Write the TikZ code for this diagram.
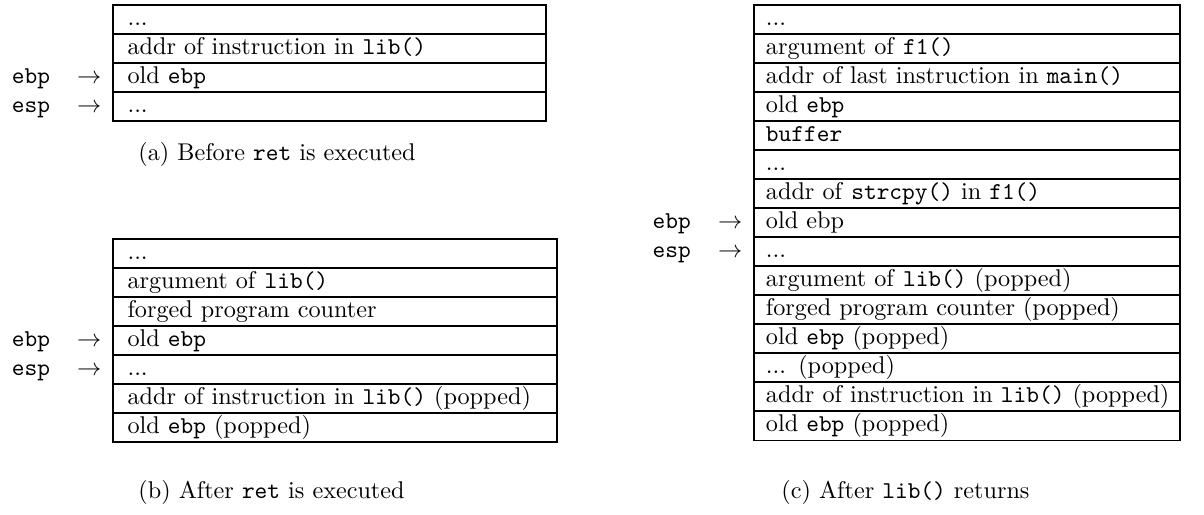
\documentclass[tikz,border=0pt]{standalone}
\usetikzlibrary{positioning}

\tikzset{
  cell/.style={draw, line width=0.8pt, rectangle, anchor=north west,
    inner xsep=6pt, inner ysep=0pt, outer sep=0pt,
    text height=8.4pt, text depth=3.6pt, align=left},
  reg/.style={anchor=base west, inner sep=0pt},
  subcaption/.style={anchor=base west, inner sep=0pt}
}
% three periods, kept in a macro so \foreach does not read them as a range
\newcommand\stackdots{...}

\begin{document}
\begin{tikzpicture}
\useasboundingbox (0,0) rectangle (497.5pt,-212.4pt);

% (a) stack before ret
\foreach \t [count=\i] in {{\stackdots},{addr of instruction in \texttt{lib()}},{old \texttt{ebp}},{\stackdots}}
  \node[cell, text width=167pt] (a\i) at (46.7pt,{-2pt-(\i-1)*12pt}) {\mbox{\t}};
\node[reg] (aebp) at ([xshift=-42pt]a3.base west) {\texttt{ebp}};
\node[reg] (aebparr) at ([xshift=-15pt]a3.base west) {$\rightarrow$};
\node[reg] (aesp) at ([xshift=-42pt]a4.base west) {\texttt{esp}};
\node[reg] (aesparr) at ([xshift=-15pt]a4.base west) {$\rightarrow$};
\node[subcaption] (capa) at (57pt,-66.5pt) {(a) Before \texttt{ret} is executed};

% (b) stack after ret
\foreach \t [count=\i] in {{\stackdots},{argument of \texttt{lib()}},{forged program counter},{old \texttt{ebp}},{\stackdots},{addr of instruction in \texttt{lib()} (popped)},{old \texttt{ebp} (popped)}}
  \node[cell, text width=171.5pt] (b\i) at (46.7pt,{-98.8pt-(\i-1)*12pt}) {\mbox{\t}};
\node[reg] (bebp) at ([xshift=-42pt]b4.base west) {\texttt{ebp}};
\node[reg] (bebparr) at ([xshift=-15pt]b4.base west) {$\rightarrow$};
\node[reg] (besp) at ([xshift=-42pt]b5.base west) {\texttt{esp}};
\node[reg] (besparr) at ([xshift=-15pt]b5.base west) {$\rightarrow$};
\node[subcaption] (capb) at (57pt,-206pt) {(b) After \texttt{ret} is executed};

% (c) stack after lib() returns
\foreach \t [count=\i] in {{\stackdots},{argument of \texttt{f1()}},{addr of last instruction in \texttt{main()}},{old \texttt{ebp}},{\texttt{buffer}},{\stackdots},{addr of \texttt{strcpy()} in \texttt{f1()}},{old ebp},{\stackdots},{argument of \texttt{lib()} (popped)},{forged program counter (popped)},{old \texttt{ebp} (popped)},{\stackdots{} (popped)},{addr of instruction in \texttt{lib()} (popped)},{old \texttt{ebp} (popped)}}
  \node[cell, inner xsep=5pt, text width=166pt] (c\i) at (311.5pt,{-2pt-(\i-1)*12pt}) {\mbox{\t}};
\node[reg] (cebp) at ([xshift=-42pt]c8.base west) {\texttt{ebp}};
\node[reg] (cebparr) at ([xshift=-15pt]c8.base west) {$\rightarrow$};
\node[reg] (cesp) at ([xshift=-42pt]c9.base west) {\texttt{esp}};
\node[reg] (cesparr) at ([xshift=-15pt]c9.base west) {$\rightarrow$};
\node[subcaption] (capc) at (322.7pt,-206pt) {(c) After \texttt{lib()} returns};
\end{tikzpicture}
\end{document}
